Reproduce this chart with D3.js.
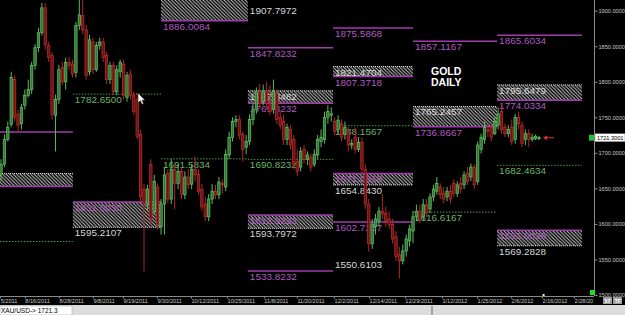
<!DOCTYPE html>
<html>
<head>
<meta charset="utf-8">
<script src="https://cdn.jsdelivr.net/npm/d3@7"></script>
<style>
  body { margin: 0; background: #000; overflow: hidden; }
  text { font-family: "Liberation Sans", Arial, sans-serif; }
</style>
</head>
<body>
<svg id="chart" width="625" height="315"></svg>
<script>
// daily bars, XAU/USD
const open = [1670,1684,1719,1740,1803,1754,1741,1767,1781,1789,
  1823,1848,1869,1904,1851,1837,1753,1775,1820,1800,
  1827,1825,1813,1879,1893,1873,1814,1856,1817,1851,
  1856,1837,1803,1823,1786,1814,1825,1778,1811,1781,
  1775,1726,1649,1628,1684,1618,1652,1596,1628,1671,
  1635,1677,1657,1674,1641,1666,1656,1677,1670,1649,
  1628,1610,1635,1646,1641,1657,1652,1697,1722,1744,
  1747,1726,1708,1716,1747,1761,1786,1772,1786,1769,
  1761,1783,1750,1744,1719,1733,1719,1688,1680,1705,
  1691,1694,1684,1697,1716,1719,1750,1753,1744,1733,
  1741,1726,1730,1711,1722,1705,1715,1677,1628,1572,
  1596,1604,1618,1615,1607,1599,1582,1557,1548,1562,
  1576,1590,1610,1618,1610,1627,1621,1638,1646,1652,
  1643,1638,1646,1657,1643,1657,1655,1671,1666,1680,
  1660,1705,1719,1733,1736,1727,1739,1758,1736,1727,
  1736,1719,1750,1739,1719,1727,1719,1720,1720];
const close = [1684,1719,1736,1806,1750,1739,1764,1781,1789,1823,
  1848,1869,1904,1852,1834,1754,1775,1817,1800,1827,
  1823,1811,1879,1894,1873,1809,1859,1817,1851,1856,
  1834,1803,1823,1786,1817,1827,1781,1809,1781,1758,
  1723,1638,1628,1649,1607,1660,1599,1628,1669,1635,
  1677,1657,1674,1642,1666,1655,1677,1669,1646,1624,
  1610,1635,1646,1641,1659,1655,1698,1722,1744,1747,
  1725,1705,1716,1747,1761,1786,1769,1786,1769,1758,
  1786,1747,1739,1719,1736,1711,1684,1674,1702,1691,
  1697,1680,1698,1719,1722,1750,1758,1755,1730,1746,
  1722,1736,1711,1713,1705,1715,1677,1628,1572,1600,
  1607,1618,1614,1604,1599,1579,1554,1548,1562,1579,
  1593,1610,1618,1607,1627,1615,1638,1649,1657,1641,
  1635,1646,1635,1643,1655,1649,1669,1660,1680,1655,
  1711,1722,1736,1730,1722,1744,1755,1733,1727,1733,
  1716,1750,1741,1713,1727,1719,1722,1723,1721.3];
const high = [1691,1726,1744,1814,1809,1761,1769,1789,1803,1828,
  1853,1876,1911,1911,1856,1842,1782,1824,1828,1834,
  1835,1831,1884,1915,1915,1880,1866,1862,1856,1862,
  1862,1842,1828,1828,1823,1831,1831,1814,1817,1786,
  1785,1733,1656,1655,1691,1669,1657,1635,1680,1677,
  1691,1683,1684,1680,1674,1677,1684,1695,1677,1656,
  1638,1642,1656,1655,1666,1663,1705,1730,1750,1753,
  1753,1730,1725,1754,1769,1792,1797,1796,1800,1795,
  1803,1789,1758,1754,1741,1739,1725,1705,1708,1711,
  1702,1699,1705,1725,1733,1758,1767,1764,1750,1753,
  1747,1744,1736,1719,1736,1722,1722,1684,1635,1607,
  1614,1624,1642,1624,1618,1607,1590,1568,1571,1585,
  1599,1618,1627,1627,1635,1635,1643,1655,1666,1657,
  1652,1652,1655,1663,1660,1666,1674,1680,1685,1684,
  1716,1727,1744,1741,1741,1750,1764,1767,1741,1739,
  1747,1755,1758,1744,1733,1733,1727,1726,1724];
const low = [1660,1680,1716,1736,1744,1729,1733,1761,1778,1783,
  1817,1842,1865,1845,1828,1747,1702,1769,1795,1789,
  1817,1806,1806,1873,1867,1803,1809,1811,1814,1845,
  1828,1797,1797,1781,1781,1806,1775,1772,1775,1753,
  1719,1631,1533,1618,1599,1613,1593,1585,1585,1629,
  1628,1621,1649,1635,1635,1649,1649,1660,1641,1618,
  1604,1604,1628,1635,1635,1643,1646,1691,1716,1736,
  1719,1688,1698,1711,1739,1755,1764,1767,1761,1753,
  1755,1741,1733,1711,1711,1705,1677,1667,1674,1685,
  1683,1674,1680,1691,1708,1713,1741,1744,1725,1727,
  1716,1719,1702,1705,1699,1701,1671,1621,1561,1565,
  1585,1596,1607,1596,1593,1572,1548,1523,1543,1554,
  1568,1573,1604,1601,1604,1610,1615,1632,1641,1635,
  1629,1632,1629,1638,1638,1643,1649,1655,1660,1649,
  1655,1699,1713,1722,1716,1725,1733,1727,1722,1722,
  1711,1713,1733,1708,1711,1708,1716,1718,1718];

// date axis (bar index of each label); first one is cut by the window edge
const dateLabels = ['5/2011','8/16/2011','8/28/2011','9/8/2011','9/19/2011','9/30/2011',
  '10/12/2011','10/25/2011','11/8/2011','11/20/2011','12/2/2011','12/14/2011',
  '12/29/2011','1/12/2012','1/25/2012','2/6/2012','2/16/2012','2/28/20'];
const dateIdx = [-0.25,7.0,17.0,27.0,35.8,45.8,55.8,66.4,77.2,86.9,97.8,108.1,118.6,129.5,139.8,149.8,158.9,168.3];
const priceTicks = [1500,1550,1600,1650,1700,1750,1800,1850,1900];

// pivot periods (bar index edges)
const periodEdges = [-0.3,21.1,47.0,72.5,97.5,121.0,145.7,170.6];

// [period, top, bottom, top label, bottom label]
const upperZones = [
  [0, 1671, 1652.5, '', ''],
  [2, 1918, 1886.0084, '', '1886.0084'],
  [3, 1787.3482, 1769.8232, '1787.3482', '1769.8232'],
  [4, 1821.4704, 1807.3718, '1821.4704', '1807.3718'],
  [5, 1765.2457, 1736.8667, '1765.2457', '1736.8667'],
  [6, 1795.6479, 1774.0334, '1795.6479', '1774.0334']
];
const lowerZones = [
  [1, 1631.0030, 1595.2107, '1631.0030', '1595.2107'],
  [3, 1612.5232, 1593.7972, '1612.5232', '1593.7972'],
  [4, 1671.0818, 1654.8430, '1671.0818', '1654.8430'],
  [6, 1591.0039, 1569.2828, '1591.0039', '1569.2828']
];
// [period, price, label]
const magentaLines = [
  [0, 1729.5, ''],
  [3, 1847.8232, '1847.8232'],
  [4, 1875.5868, '1875.5868'],
  [5, 1857.1167, '1857.1167'],
  [6, 1865.6034, '1865.6034'],
  [3, 1533.8232, '1533.8232'],
  [4, 1602.7267, '1602.7267']
];
const pivotLines = [
  [0, 1575.2, ''],
  [1, 1782.65, '1782.6500'],
  [2, 1691.5834, '1691.5834'],
  [3, 1690.8232, '1690.8232'],
  [4, 1738.1567, '1738.1567'],
  [5, 1616.6167, '1616.6167'],
  [6, 1682.4634, '1682.4634']
];
const extremeLabels = [
  [3, 1907.7972, '1907.7972'],
  [4, 1550.6103, '1550.6103']
];
const lastPrice = 1721.3;
const lastPriceTag = '1721.3001';

const svg = d3.select('#chart');
const plotRight = 594, plotBottom = 296;
const magenta = '#a23cae', magentaText = '#b05ac0';
const pivotCol = '#4e9a4e', pivotText = '#68b468';
const whiteText = '#d8d8d8';

const x = d3.scaleLinear().domain([0, close.length - 1]).range([1, 539]);
const y = d3.scaleLinear().domain([1500, 1900]).range([295, 10.7]);
const px = p => x(periodEdges[p]);

svg.append('rect').attr('width', 625).attr('height', 315).attr('fill', '#000');

const defs = svg.append('defs');
defs.append('clipPath').attr('id', 'plotClip')
  .append('rect').attr('width', plotRight).attr('height', plotBottom);
const pat = defs.append('pattern').attr('id', 'hatch')
  .attr('patternUnits', 'userSpaceOnUse').attr('width', 3.5).attr('height', 3.5);
pat.append('path').attr('d', 'M0,0 L3.5,3.5 M-1,2.5 L1,4.5 M2.5,-1 L4.5,1')
  .attr('stroke', '#d4d4d4').attr('stroke-width', 0.9);

const plot = svg.append('g').attr('clip-path', 'url(#plotClip)');

function levelText(g, p, price, txt, col) {
  if (!txt) return;
  g.append('text')
    .attr('x', px(p) + 2).attr('y', y(price) + 9)
    .attr('fill', col)
    .attr('font-family', '"Liberation Mono", monospace')
    .attr('font-size', 9.5)
    .attr('textLength', 47).attr('lengthAdjust', 'spacingAndGlyphs')
    .text(txt);
}

// hatched zones
const zones = plot.append('g');
upperZones.forEach(([p, top, bot, tl, bl]) => {
  zones.append('rect').attr('x', px(p)).attr('y', y(top))
    .attr('width', px(p + 1) - px(p)).attr('height', y(bot) - y(top))
    .attr('fill', 'url(#hatch)');
  zones.append('line').attr('x1', px(p)).attr('x2', px(p + 1))
    .attr('y1', y(top)).attr('y2', y(top))
    .attr('stroke', '#ddd').attr('stroke-dasharray', '1,1');
  zones.append('line').attr('x1', px(p)).attr('x2', px(p + 1))
    .attr('y1', y(bot)).attr('y2', y(bot))
    .attr('stroke', magenta).attr('stroke-width', 1.5);
  levelText(zones, p, top, tl, whiteText);
  levelText(zones, p, bot, bl, magentaText);
});
lowerZones.forEach(([p, top, bot, tl, bl]) => {
  zones.append('rect').attr('x', px(p)).attr('y', y(top))
    .attr('width', px(p + 1) - px(p)).attr('height', y(bot) - y(top))
    .attr('fill', 'url(#hatch)');
  zones.append('line').attr('x1', px(p)).attr('x2', px(p + 1))
    .attr('y1', y(top)).attr('y2', y(top))
    .attr('stroke', magenta).attr('stroke-width', 1.5);
  zones.append('line').attr('x1', px(p)).attr('x2', px(p + 1))
    .attr('y1', y(bot)).attr('y2', y(bot))
    .attr('stroke', '#ddd').attr('stroke-dasharray', '1,1');
  levelText(zones, p, top, tl, magentaText);
  levelText(zones, p, bot, bl, whiteText);
});

// level lines
magentaLines.forEach(([p, price, lbl]) => {
  plot.append('line').attr('x1', px(p)).attr('x2', px(p + 1))
    .attr('y1', y(price)).attr('y2', y(price))
    .attr('stroke', magenta).attr('stroke-width', 1.5);
  levelText(plot, p, price, lbl, magentaText);
});
pivotLines.forEach(([p, price, lbl]) => {
  plot.append('line').attr('x1', px(p)).attr('x2', px(p + 1))
    .attr('y1', y(price)).attr('y2', y(price))
    .attr('stroke', pivotCol).attr('stroke-dasharray', '1.5,1.5');
  levelText(plot, p, price, lbl, pivotText);
});
extremeLabels.forEach(([p, price, lbl]) => levelText(plot, p, price, lbl, whiteText));

// candles
const bars = d3.range(close.length);
const up = i => close[i] >= open[i];
const cg = plot.append('g');
cg.selectAll('line.wick').data(bars).join('line')
  .attr('class', 'wick')
  .attr('x1', i => x(i)).attr('x2', i => x(i))
  .attr('y1', i => y(high[i])).attr('y2', i => y(low[i]))
  .attr('stroke', i => up(i) ? '#5fb85f' : '#b02828')
  .attr('stroke-width', 1);
cg.selectAll('rect.body').data(bars).join('rect')
  .attr('class', 'body')
  .attr('x', i => x(i) - 1.2).attr('width', 2.4)
  .attr('y', i => y(Math.max(open[i], close[i])))
  .attr('height', i => Math.max(1, Math.abs(y(open[i]) - y(close[i]))))
  .attr('fill', i => up(i) ? '#2f7a34' : '#701212')
  .attr('stroke', i => up(i) ? '#66c266' : '#c03030')
  .attr('stroke-width', 0.7);

// title
svg.append('text').attr('x', 431).attr('y', 75).attr('fill', '#fff')
  .attr('font-weight', 'bold').attr('font-size', 10.5).text('GOLD');
svg.append('text').attr('x', 431).attr('y', 86).attr('fill', '#fff')
  .attr('font-weight', 'bold').attr('font-size', 10.5).text('DAILY');

// mouse pointer
svg.append('path')
  .attr('d', 'M138,93 L138,103 L140.4,100.8 L142,104.5 L143.6,103.8 L142,100.2 L145,100.2 Z')
  .attr('fill', '#fff').attr('stroke', '#000').attr('stroke-width', 0.5);

// last price arrow
const ly = y(lastPrice);
const lx = x(close.length - 1);
svg.append('line').attr('x1', lx + 5).attr('x2', lx + 15)
  .attr('y1', ly).attr('y2', ly).attr('stroke', '#d83030').attr('stroke-width', 1);
svg.append('path')
  .attr('d', `M${lx + 4},${ly} l4,-2.5 l0,5 Z`)
  .attr('fill', '#d83030');

// right axis
svg.append('line').attr('x1', plotRight + 0.5).attr('x2', plotRight + 0.5)
  .attr('y1', 0).attr('y2', plotBottom).attr('stroke', '#8a8a8a');
const ya = svg.append('g').attr('transform', `translate(${plotRight + 0.5},0)`)
  .call(d3.axisRight(y).tickValues(priceTicks).tickFormat(d => d.toFixed(4)).tickSize(3));
ya.select('.domain').remove();
ya.selectAll('line').attr('stroke', '#8a8a8a');
ya.selectAll('text').attr('fill', '#c8c8c8').attr('font-size', 5.6).attr('x', 4);

// last price tag
svg.append('rect').attr('x', 589).attr('y', ly - 3).attr('width', 5).attr('height', 6).attr('fill', '#1fbf3a');
svg.append('rect').attr('x', 595).attr('y', ly - 4).attr('width', 30).attr('height', 8)
  .attr('fill', '#fff').attr('stroke', '#777').attr('stroke-width', 0.5);
svg.append('text').attr('x', 597).attr('y', ly + 2).attr('fill', '#000')
  .attr('font-size', 5.6).text(lastPriceTag);

// bottom axis
svg.append('line').attr('x1', 0).attr('x2', plotRight).attr('y1', plotBottom + 0.5).attr('y2', plotBottom + 0.5)
  .attr('stroke', '#8a8a8a');
const xa = svg.append('g').attr('transform', `translate(0,${plotBottom + 0.5})`)
  .call(d3.axisBottom(x).tickValues(dateIdx).tickFormat((d, i) => dateLabels[i]).tickSize(2));
xa.select('.domain').remove();
xa.selectAll('line').attr('stroke', '#8a8a8a');
xa.selectAll('text').attr('fill', '#c8c8c8').attr('font-size', 5.6)
  .attr('text-anchor', 'start').attr('y', 3).attr('dy', '0.71em');

// small markers on the axis
svg.append('rect').attr('x', x(158.9) + 0.5).attr('y', plotBottom - 2).attr('width', 2).attr('height', 2).attr('fill', '#f4f08a');
svg.append('rect').attr('x', 590).attr('y', 290).attr('width', 5).attr('height', 5).attr('fill', '#22dd22');
[['57', 603], ['TF', 613]].forEach(([t, bx]) => {
  svg.append('rect').attr('x', bx).attr('y', 297).attr('width', 9).attr('height', 7).attr('fill', '#9a9a9a');
  svg.append('text').attr('x', bx + 1.5).attr('y', 302.5).attr('fill', '#fff').attr('font-size', 5.5)
    .attr('font-weight', 'bold').text(t);
});

// status bar
svg.append('rect').attr('x', 0).attr('y', 305).attr('width', 625).attr('height', 10).attr('fill', '#dcdcdc');
svg.append('rect').attr('x', 0).attr('y', 306).attr('width', 72).attr('height', 9).attr('fill', '#fff')
  .attr('stroke', '#999').attr('stroke-width', 0.5);
svg.append('line').attr('x1', 432).attr('x2', 432).attr('y1', 306).attr('y2', 315).attr('stroke', '#666');
svg.append('text').attr('x', 1).attr('y', 313).attr('fill', '#000').attr('font-size', 6.5)
  .text('XAU/USD-> ' + lastPrice);
</script>
</body>
</html>
